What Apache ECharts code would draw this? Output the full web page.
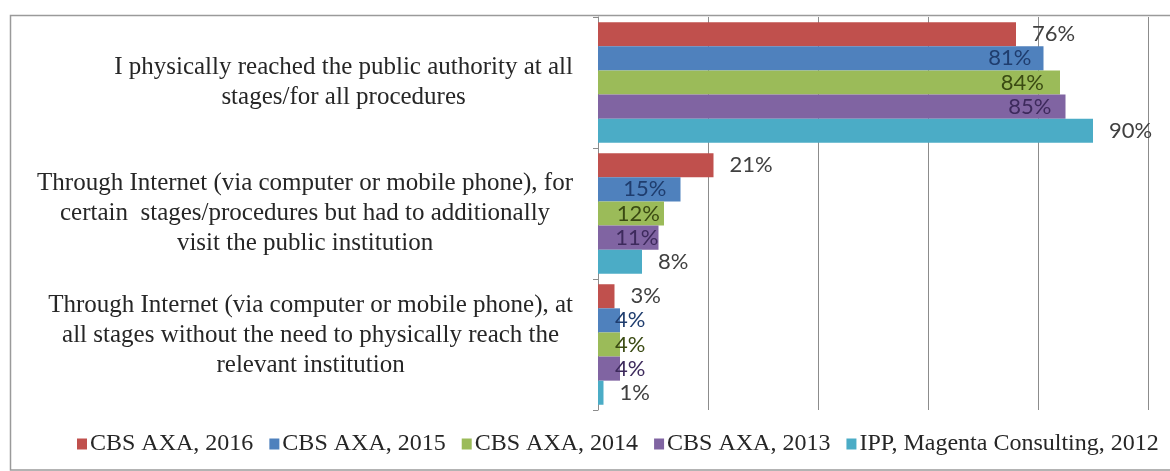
<!DOCTYPE html>
<html>
<head>
<meta charset="utf-8">
<script src="https://cdn.jsdelivr.net/npm/echarts@6/dist/echarts.min.js"></script>
<style>
  html, body { margin: 0; padding: 0; background: #ffffff; }
  #chart { width: 1170px; height: 471px; }
</style>
</head>
<body>
<div id="chart"></div>
<script>
// Survey answers: how the respondent reached the public authority
const categories = [
  'I physically reached the public authority at all\nstages/for all procedures',
  'Through Internet (via computer or mobile phone), for\ncertain  stages/procedures but had to additionally\nvisit the public institution',
  'Through Internet (via computer or mobile phone), at\nall stages without the need to physically reach the\nrelevant institution'
];

const seriesNames = [
  'CBS AXA, 2016',
  'CBS AXA, 2015',
  'CBS AXA, 2014',
  'CBS AXA, 2013',
  'IPP, Magenta Consulting, 2012'
];

// Shares of respondents, in percent
const cbs2016 = [76, 21, 3];
const cbs2015 = [81, 15, 4];
const cbs2014 = [84, 12, 4];
const cbs2013 = [85, 11, 4];
const ipp2012 = [90, 8, 1];

const valueTicks = [0, 20, 40, 60, 80, 100];

// Bar fills and value-label colours
const barColors = ['#c0504d', '#4f81bd', '#9bbb59', '#8064a2', '#4bacc6'];
const labelColors = ['#404040', '#1f3d6e', '#3a4a12', '#3d2a5c', '#404040'];

const serifFont = '"Liberation Serif", "DejaVu Serif", serif';
const labelFont = 'Lato, "Open Sans", sans-serif';

// Where each value label sits relative to its bar (per series, per category)
const outside = { position: 'right', distance: 16 };
const labelPlacement = [
  [outside, outside, outside],
  [{ position: 'insideRight', distance: 12 }, { position: 'insideRight', distance: 14 }, { position: 'insideLeft', distance: 17 }],
  [{ position: 'insideRight', distance: 16 }, { position: 'insideRight', distance: 4 }, { position: 'insideLeft', distance: 17 }],
  [{ position: 'insideRight', distance: 14 }, { position: 'insideRight', distance: 0 }, { position: 'insideLeft', distance: 17 }],
  [outside, outside, outside]
];

// The last category label sits a little above its band centre
const categoryLabelPadding = [[0, 0, 0, 0], [0, 0, 0, 0], [0, 0, 18, 0]];

const seriesValues = [cbs2016, cbs2015, cbs2014, cbs2013, ipp2012];

const series = seriesValues.map((values, s) => ({
  name: seriesNames[s],
  type: 'bar',
  barGap: '0%',
  barCategoryGap: '8%',
  itemStyle: { color: barColors[s] },
  label: {
    show: true,
    formatter: '{c}%',
    fontFamily: labelFont,
    fontSize: 22,
    color: labelColors[s]
  },
  data: values.map((v, i) => ({ value: v, label: labelPlacement[s][i] }))
}));

const chart = echarts.init(document.getElementById('chart'), null, { renderer: 'canvas' });

chart.setOption({
  animation: false,
  backgroundColor: '#ffffff',
  color: barColors,
  grid: { left: 598, right: 22, top: 17, bottom: 61, containLabel: false },
  graphic: [{
    type: 'rect',
    z: -10,
    shape: { x: 10.5, y: 15.5, width: 1180, height: 454.5 },
    style: { fill: 'none', stroke: '#9a9a9a', lineWidth: 1.5 }
  }],
  legend: {
    data: seriesNames,
    left: 72,
    top: 427,
    icon: 'rect',
    itemWidth: 10,
    itemHeight: 11,
    itemGap: 16,
    textStyle: { fontFamily: serifFont, fontSize: 24, color: '#262626', padding: [0, 0, 0, -2] }
  },
  xAxis: {
    type: 'value',
    min: valueTicks[0],
    max: valueTicks[valueTicks.length - 1],
    interval: valueTicks[1] - valueTicks[0],
    axisLine: { show: false },
    axisTick: { show: false },
    axisLabel: { show: false },
    splitLine: { show: true, lineStyle: { color: '#8c8c8c', width: 1 } }
  },
  yAxis: {
    type: 'category',
    inverse: true,
    data: categories.map((c, i) => ({ value: c, textStyle: { padding: categoryLabelPadding[i] } })),
    axisLine: { show: true, lineStyle: { color: '#8c8c8c', width: 1 } },
    axisTick: { show: true, length: 5, lineStyle: { color: '#8c8c8c' } },
    axisLabel: {
      margin: 25,
      formatter: (v) => v.split('\n').map(line => '{c|' + line + '}').join('\n'),
      rich: {
        c: { align: 'center', fontFamily: serifFont, fontSize: 25, lineHeight: 30, color: '#262626' }
      }
    }
  },
  series: series
});
</script>
</body>
</html>
